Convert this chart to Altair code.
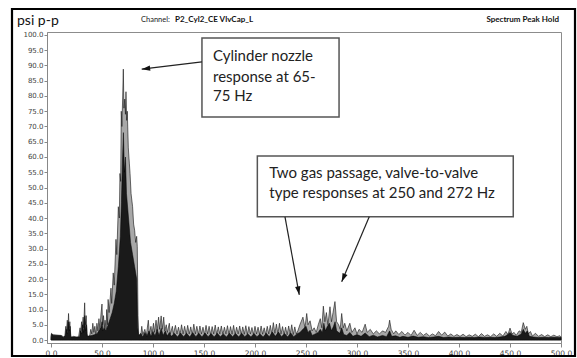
import math
import altair as alt
import pandas as pd

# ---------------- data ----------------
outer_freq = [0, 0.5, 2, 10, 12, 13.5, 14.5, 15, 16, 16.5, 17.2, 17.8, 18.5, 19.2, 20, 22, 25, 27,
              28.5, 29, 30, 30.5, 31.5, 32, 33, 33.6, 34.5, 35.3, 36,
              38, 39, 40, 41, 42, 43, 44, 45, 46, 47, 48, 49, 50, 50.6, 51.5, 52.3, 53, 54, 54.6,
              55.3, 56, 57, 58.8, 59.5, 61, 62, 63.7, 64.5, 66, 67, 67.6, 68.3, 68.9, 69.5, 70.3, 70.9,
              71.5, 72.3, 73, 73.5, 74.2, 74.8, 75.8, 76.8, 77.5, 78.5, 80, 81, 82, 83, 84, 84.6, 85.3, 86,
              88, 89, 90, 92, 93.5, 95.4, 96.5, 98, 99, 100.5, 101.5, 103, 104, 105.5, 106.5, 108, 109,
              110.5, 111.5, 113, 114, 116, 117, 119,
              120, 122, 123.5, 125, 126.5, 128, 129.5, 131, 132.5, 134, 135.5, 137, 138.5, 140, 141.5,
              143, 144.5, 146, 147.5, 149, 150.5, 152, 153.5, 155, 156.5, 158, 159.5, 161, 162.5, 164,
              165.5, 167, 168.5, 170, 171.5, 173, 174.5, 176, 177.5, 179, 180.5, 182, 183.5, 185, 186.5,
              188, 189.5, 191, 192.5, 194, 195.5, 197, 198.5, 200, 201.5, 203, 204.5, 206, 207.5, 209,
              210.5, 212, 213.5, 215, 216.5, 218, 219.5, 221, 222.5, 224, 225.5, 227, 228.5, 230, 231.5,
              233, 234.5, 236, 237.5, 239, 240.5,
              242, 244, 247, 249, 250.7, 252, 254, 256, 258, 260, 262, 264, 265.5, 267, 268.5, 270, 271.5,
              273.5, 275, 276.5, 278.4, 280, 282, 283.5, 285, 286.5, 288, 290, 293, 295, 298, 300, 302,
              305, 308, 310, 313, 316, 319, 322, 325, 328, 331, 332, 333.5, 336, 338, 341, 344, 347, 350,
              353, 356, 359, 362, 365, 368, 371, 374, 377, 380, 383, 386, 389, 392, 395, 398, 401, 404,
              407, 410, 413, 416, 419, 422, 425, 428, 431, 434, 437, 440, 443, 446, 448, 450, 452, 454,
              456, 459, 461, 463, 465, 466.5, 468, 470, 472, 475, 478, 481, 484, 487, 490, 493, 496, 499, 500]
outer_amp = [1.0, 2.2, 1.7, 1.5, 1.1, 1.0, 4.5, 2.5, 6.5, 3.0, 8.7, 4.0, 6.0, 1.5, 0.8, 1.2, 0.9, 1.0,
             4.0, 2.0, 6.0, 3.0, 7.5, 4.0, 12.2, 5.0, 8.0, 2.0, 1.0,
             1.5, 3.5, 2.0, 5.5, 2.5, 4.5, 1.5, 5.5, 3.0, 7.0, 3.5, 8.5, 11.8, 5.0, 8.0, 4.0, 6.5, 3.5, 10.0,
             5.0, 13.3, 9.0, 17.0, 12.0, 22.0, 18.0, 33.0, 28.0, 43.7, 40.0, 54.6, 52.0, 75.0, 70.0, 80.0, 88.8,
             76.0, 79.0, 74.0, 81.4, 72.0, 75.0, 63.0, 58.0, 54.6, 48.0, 43.7, 38.0, 36.0, 32.0, 34.0, 30.6, 8.0, 1.5,
             1.5, 4.5, 1.8, 3.5, 1.5, 6.5, 2.0, 4.5, 2.0, 5.5, 2.5, 6.5, 3.0, 7.5, 3.5, 7.9, 3.5,
             7.5, 3.0, 5.0, 2.5, 5.5, 2.0, 4.5,
             2.0, 4.8, 2.0, 4.2, 1.8, 5.0, 2.0, 4.5, 1.8, 4.8, 2.0, 4.3, 1.7, 5.2, 2.0,
             4.5, 1.8, 4.6, 2.0, 4.2, 1.8, 4.8, 2.0, 4.5, 1.7, 4.4, 2.0, 4.9, 1.8, 4.3,
             2.0, 4.6, 1.8, 4.2, 2.0, 4.7, 1.8, 4.4, 1.9, 4.8, 1.8, 4.2, 2.0, 4.6, 1.8,
             4.3, 1.9, 4.7, 1.8, 4.4, 2.0, 4.1, 1.8, 4.5, 2.0, 4.2, 1.8, 4.6, 1.9, 4.0,
             1.8, 4.5, 2.0, 4.8, 2.0, 5.7, 2.2, 5.2, 2.0, 5.5, 2.0, 4.4, 1.8, 4.2, 1.7,
             4.6, 2.0, 5.0, 1.8, 4.3, 2.0,
             3.0, 5.0, 7.5, 4.0, 8.7, 5.0, 6.3, 3.0, 4.0, 2.5, 5.0, 7.0, 4.0, 11.1, 6.0, 9.0, 5.0,
             10.9, 6.0, 9.0, 12.6, 6.0, 5.0, 3.5, 8.7, 4.0, 5.5, 3.0, 5.5, 2.5, 4.0, 2.0, 3.5,
             2.5, 5.2, 2.5, 3.5, 2.0, 3.0, 2.0, 3.0, 2.5, 4.5, 6.5, 3.5, 2.0, 3.0, 1.8, 2.8, 1.6, 2.5,
             1.5, 3.2, 1.5, 2.5, 1.5, 2.2, 1.3, 2.0, 1.4, 2.8, 1.6, 2.6, 1.3, 2.0, 1.2, 1.8, 1.2, 1.9,
             1.1, 1.7, 1.2, 1.9, 1.1, 2.1, 1.2, 1.7, 1.1, 2.0, 1.2, 2.2, 1.3, 2.8, 1.8, 3.9, 2.0, 2.5,
             1.5, 3.0, 2.5, 5.7, 3.5, 4.5, 2.0, 2.8, 1.3, 2.2, 1.2, 1.8, 1.1, 1.7, 1.1, 1.6, 1.1, 1.4, 1.0]

inner_freq = [0, 0.5, 2, 10, 12, 14, 15, 16, 17, 18, 18.8, 19.5, 22, 28, 29, 30, 31, 32, 33, 34, 34.8, 35.5,
              40, 45, 47, 49, 50, 51, 52, 54, 56, 58, 60, 62, 64, 66, 68, 69, 70, 71, 72, 73, 74, 76, 78,
              80, 82, 84, 85, 86,
              88, 90, 92, 94, 96, 98, 100, 102, 104, 106, 108, 110, 112, 114, 116, 118, 121, 124, 127,
              130, 133, 136, 139, 142, 145, 148, 151, 154, 157, 160, 163, 166, 169, 172, 175, 178, 181,
              184, 187, 190, 193, 196, 199, 202, 205, 208, 211, 214, 217, 220, 223, 226, 229, 232, 235,
              238, 241, 244, 247, 250, 252, 254, 256, 259, 262, 264, 266, 267.5, 269, 271, 273, 275, 277,
              278.5, 280, 283, 285, 287, 290, 293, 296, 300, 304, 308, 312, 316, 320, 325, 329, 332, 334,
              338, 342, 345, 350, 355, 360, 365, 370, 375, 380, 385, 390, 395, 400, 405, 410, 415, 420,
              425, 430, 435, 440, 445, 448, 450, 453, 457, 461, 463, 465, 467, 469, 473, 478, 483, 488,
              493, 498, 500]
inner_amp = [0.5, 2.0, 1.6, 1.4, 0.8, 1.5, 3.5, 2.0, 6.0, 3.0, 4.5, 1.0, 1.0, 1.0, 3.0, 2.0, 5.0, 2.5, 8.0, 3.0, 5.0, 1.2,
             1.5, 2.0, 3.0, 4.0, 6.0, 3.0, 4.0, 3.0, 5.0, 7.0, 9.0, 12.0, 16.0, 24.0, 34.0, 45.0, 58.0, 68.0, 55.0, 60.0, 48.0, 40.0, 32.0,
             28.0, 24.0, 20.0, 4.0, 1.5,
             2.2, 1.0, 2.5, 1.2, 3.0, 1.2, 2.8, 1.3, 3.5, 1.5, 3.8, 1.5, 3.0, 1.3, 2.5, 1.2, 2.2, 1.0, 2.3,
             1.1, 2.2, 1.0, 2.4, 1.1, 2.2, 1.0, 2.3, 1.1, 2.1, 1.0, 2.2, 1.1, 2.0, 1.0, 2.2, 1.1, 2.1,
             1.0, 2.2, 1.1, 2.0, 1.0, 2.1, 1.1, 2.0, 1.0, 2.2, 1.1, 2.6, 1.2, 2.6, 1.1, 2.1, 1.0, 2.3,
             1.1, 2.0, 2.5, 3.5, 4.5, 2.5, 3.2, 1.5, 2.0, 2.5, 3.5, 2.5, 5.5, 3.0, 4.5, 5.5, 3.0, 4.5,
             6.0, 3.0, 2.2, 4.0, 1.8, 1.5, 2.5, 1.2, 1.8, 1.2, 2.3, 1.1, 1.6, 1.0, 1.5, 1.1, 3.0, 1.2,
             1.4, 0.9, 1.2, 0.9, 1.3, 0.9, 1.1, 0.8, 1.0, 1.2, 0.8, 1.0, 0.8, 0.9, 0.8, 0.9, 0.8, 1.0,
             0.8, 0.9, 0.8, 1.0, 1.2, 1.8, 2.5, 1.5, 1.2, 2.0, 3.5, 2.2, 3.0, 1.2, 1.0, 0.8, 0.9, 0.8,
             0.9, 0.8, 0.8]

y_ticks = [0.0, 5.0, 10.0, 15.0, 20.0, 25.0, 30.0, 35.0, 40.0, 45.0, 50.0,
           55.0, 60.0, 65.0, 70.0, 75.0, 80.0, 85.0, 90.0, 95.0, 100.0]
x_ticks = [0.0, 50.0, 100.0, 150.0, 200.0, 250.0, 300.0, 350.0, 400.0, 450.0, 500.0]

unit_label = "psi p-p"
channel_label = "Channel:"
channel_name = "P2_Cyl2_CE VlvCap_L"
mode_label = "Spectrum Peak Hold"

box_x0 = [148.0, 202.3]
box_x1 = [282.4, 453.2]
box_y0 = [73.1, 40.4]
box_y1 = [99.0, 60.3]

note_lines = ["Cylinder nozzle", "response at 65-", "75 Hz",
              "Two gas passage, valve-to-valve", "type responses at 250 and 272 Hz"]
note_x = [158.8, 158.8, 158.8, 214.0, 214.0]
note_y = [93.1, 86.3, 80.0, 54.7, 48.3]

arrow_x0 = [148.0, 229.4, 312.0]
arrow_y0 = [91.2, 40.4, 40.4]
arrow_x1 = [88.9, 243.4, 285.0]
arrow_y1 = [88.8, 14.8, 19.1]

# ---------------- layout ----------------
W, H = 514, 311
PAD_L, PAD_T = 47, 32
XD = [-3.92, 500.0]
YD = [-0.98, 100.98]
KX = W / (XD[1] - XD[0])
KY = H / (YD[1] - YD[0])

xs = alt.Scale(domain=XD, nice=False, zero=False)
ys = alt.Scale(domain=YD, nice=False, zero=False)

x_axis = alt.Axis(values=x_ticks, format=".1f", title=None, grid=False, tickSize=4,
                  labelPadding=2, labelFontSize=7.5, labelColor="#444", tickColor="#888",
                  domainColor="#888", labelFont="DejaVu Sans", labelFlush=False)
y_axis = alt.Axis(values=y_ticks, format=".1f", title=None, grid=False, tickSize=3,
                  labelPadding=1, labelFontSize=7, labelColor="#444", tickColor="#888",
                  domainColor="#888", labelFont="DejaVu Sans")


def X(field):
    return alt.X(field, type="quantitative", scale=xs, axis=x_axis)


def Y(field):
    return alt.Y(field, type="quantitative", scale=ys, axis=y_axis)


outer_df = pd.DataFrame({"f": outer_freq, "a": outer_amp})
outer_df["base"] = 0.0
inner_df = pd.DataFrame({"f": inner_freq, "a": inner_amp})
inner_df["base"] = 0.0

outer = alt.Chart(outer_df).mark_area(fill="#a8a8a8", stroke="#111", strokeWidth=0.6,
                                      interpolate="linear").encode(
    x=X("f"), y=Y("a"), y2="base:Q")
inner = alt.Chart(inner_df).mark_area(fill="#1a1a1a", stroke="#000", strokeWidth=0.5,
                                      interpolate="linear").encode(
    x=X("f"), y=Y("a"), y2="base:Q")

box_df = pd.DataFrame({"x0": box_x0, "x1": box_x1, "y0": box_y0, "y1": box_y1})
boxes = alt.Chart(box_df).mark_rect(fill="white", stroke="#555", strokeWidth=1.5).encode(
    x=X("x0"), x2="x1:Q", y=Y("y0"), y2="y1:Q")

note_df = pd.DataFrame({"t": note_lines, "x": note_x, "y": note_y})
notes = alt.Chart(note_df).mark_text(align="left", baseline="middle", font="Lato",
                                     fontSize=15, color="#222").encode(
    x=X("x"), y=Y("y"), text="t:N")

angles = []
for a0, b0, a1, b1 in zip(arrow_x0, arrow_y0, arrow_x1, arrow_y1):
    dx = (a1 - a0) * KX
    dy = -(b1 - b0) * KY
    angles.append(math.degrees(math.atan2(dx, -dy)) % 360)

arrow_df = pd.DataFrame({"x0": arrow_x0, "y0": arrow_y0, "x1": arrow_x1, "y1": arrow_y1,
                         "ang": angles})
shafts = alt.Chart(arrow_df).mark_rule(color="#222", strokeWidth=1.2).encode(
    x=X("x0"), x2="x1:Q", y=Y("y0"), y2="y1:Q")
heads = alt.Chart(arrow_df).mark_point(shape="M0,0L-0.6,1.9L0.6,1.9Z", filled=True,
                                       color="#111", opacity=1, size=80).encode(
    x=X("x1"), y=Y("y1"), angle=alt.Angle("ang:Q", scale=None))

one = pd.DataFrame({"k": [0]})
frame = alt.Chart(one).mark_rect(fill=None, stroke="#000", strokeWidth=2.2).encode(
    x=alt.value(12 - PAD_L), x2=alt.value(575 - PAD_L),
    y=alt.value(9 - PAD_T), y2=alt.value(356 - PAD_T),
)
t_unit = alt.Chart(one).mark_text(align="left", baseline="alphabetic", font="Lato",
                                  fontSize=14, color="#111").encode(
    x=alt.value(17 - PAD_L), y=alt.value(25 - PAD_T), text=alt.value(unit_label))
t_chan = alt.Chart(one).mark_text(align="left", baseline="middle", font="Lato",
                                  fontSize=7.5, color="#222").encode(
    x=alt.value(141 - PAD_L), y=alt.value(20 - PAD_T), text=alt.value(channel_label))
t_name = alt.Chart(one).mark_text(align="left", baseline="middle", font="Lato",
                                  fontSize=8, fontWeight="bold", color="#111").encode(
    x=alt.value(175 - PAD_L), y=alt.value(20 - PAD_T), text=alt.value(channel_name))
t_mode = alt.Chart(one).mark_text(align="right", baseline="middle", font="Lato",
                                  fontSize=8, fontWeight="bold", color="#111").encode(
    x=alt.value(559 - PAD_L), y=alt.value(20 - PAD_T), text=alt.value(mode_label))

chart = alt.layer(outer, inner, boxes, notes, shafts, heads,
                  frame, t_unit, t_chan, t_name, t_mode).properties(
    width=W, height=H,
    autosize=alt.AutoSizeParams(type="none"),
    padding={"left": PAD_L, "top": PAD_T, "right": 577 - PAD_L - W, "bottom": 358 - PAD_T - H},
    background="white",
).configure_view(stroke="#8c8c8c", strokeWidth=1)

chart.save("out.html", embed_options={"renderer": "svg", "actions": False})
